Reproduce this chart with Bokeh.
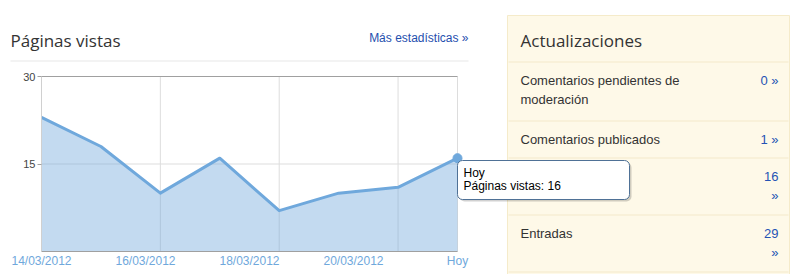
import numpy as np
from bokeh.plotting import figure
from bokeh.models import Range1d, FixedTicker, Label, BoxAnnotation
from bokeh.embed import file_html
from bokeh.resources import INLINE

# ---------------- data ----------------
dates = ["14/03/2012", "15/03/2012", "16/03/2012", "17/03/2012",
         "18/03/2012", "19/03/2012", "20/03/2012", "Hoy"]
views = [23, 18, 10, 16, 7, 10, 11, 16]
x_tick_labels = ["14/03/2012", "16/03/2012", "18/03/2012", "20/03/2012", "Hoy"]
y_ticks = [15, 30]
x_grid_idx = [2, 4, 6, 7]

chart_title = "Páginas vistas"
link_text = "Más estadísticas »"
panel_title = "Actualizaciones"
update_labels = [["Comentarios pendientes de", "moderación"],
                 ["Comentarios publicados"],
                 [],
                 ["Entradas"]]
update_counts = [["0 »"], ["1 »"], ["16", "»"], ["29", "»"]]

# ---------------- layout constants (canvas pixels) ----------------
W, H = 799, 274
FL, FR, FT, FB = 41, 457, 76, 251   # chart area edges on the canvas
TY = -5                             # text baseline correction

LINE = "#6fa8dc"
SANS = "Liberation Sans"
TITLE_FONT = "Open Sans"

n = len(views)
ymax = max(y_ticks)
kx = (FR - FL) / (n - 1)     # px per index
ky = (FB - FT) / ymax        # px per unit

x = list(range(n))

p = figure(width=W, height=H, output_backend="svg", toolbar_location=None, title=None,
           x_range=Range1d(-FL / kx, (n - 1) + (W - FR) / kx),
           y_range=Range1d(-(H - FB) / ky, ymax + FT / ky),
           min_border=0, min_border_left=0, min_border_right=0,
           min_border_top=0, min_border_bottom=0,
           background_fill_color="white", border_fill_color="white")
p.outline_line_color = None
p.extra_x_ranges = {"px": Range1d(0, W)}
p.extra_y_ranges = {"px": Range1d(H, 0)}
p.grid.visible = False

# grid lines limited to the chart area
p.segment(x0=x_grid_idx, x1=x_grid_idx, y0=[0] * len(x_grid_idx), y1=[ymax] * len(x_grid_idx),
          line_color="#dddddd", line_width=1)
p.segment(x0=[0], x1=[n - 1], y0=[y_ticks[0]], y1=[y_ticks[0]], line_color="#dddddd", line_width=1)
p.segment(x0=[0], x1=[n - 1], y0=[y_ticks[-1]], y1=[y_ticks[-1]], line_color="#a0a0a0", line_width=1)

# axes
p.yaxis.fixed_location = 0
p.yaxis.bounds = (0, ymax)
p.yaxis.ticker = FixedTicker(ticks=y_ticks)
p.yaxis.axis_line_color = "#d0d0d0"
p.yaxis.major_tick_line_color = "#a0a0a0"
p.yaxis.major_tick_out = 4
p.yaxis.major_tick_in = 0
p.yaxis.minor_tick_line_color = None
p.yaxis.major_label_standoff = 2
p.yaxis.major_label_text_font = SANS
p.yaxis.major_label_text_font_size = "11px"
p.yaxis.major_label_text_color = "#444444"

xt = [float(v) for v in np.linspace(0, n - 1, len(x_tick_labels))]
p.xaxis.fixed_location = 0
p.xaxis.bounds = (0, n - 1)
p.xaxis.ticker = FixedTicker(ticks=xt)
p.xaxis.major_label_overrides = {t: l for t, l in zip(xt, x_tick_labels)}
p.xaxis.axis_line_color = "#a0a0a0"
p.xaxis.major_tick_line_color = None
p.xaxis.minor_tick_line_color = None
p.xaxis.major_tick_out = 0
p.xaxis.major_tick_in = 0
p.xaxis.major_label_standoff = 2
p.xaxis.major_label_text_font = SANS
p.xaxis.major_label_text_font_size = "12px"
p.xaxis.major_label_text_color = LINE

# series
p.varea(x=x, y1=[0] * n, y2=views, fill_color=LINE, fill_alpha=0.42)
p.line(x=x, y=views, line_color=LINE, line_width=3, line_join="round")
p.scatter(x=[x[-1]], y=[views[-1]], size=9, fill_color=LINE, line_color=LINE)


def box(l, r, t, b, **kw):
    p.add_layout(BoxAnnotation(left=l, right=r, top=t, bottom=b,
                               x_range_name="px", y_range_name="px", **kw))


def label(xp, yp, text, **kw):
    p.add_layout(Label(x=xp, y=yp + TY, text=text, x_range_name="px", y_range_name="px",
                       text_baseline="alphabetic", **kw))


# ---------------- header ----------------
label(10, 45, chart_title, text_font=TITLE_FONT, text_font_size="17px", text_color="#333333")
label(468, 42, link_text, text_font=SANS, text_font_size="12px", text_color="#1f4fae",
      text_align="right")
box(10, 468, 60, 61, fill_color="#e8e8e8", fill_alpha=1, line_alpha=0)

# ---------------- right panel ----------------
box(507, 789, 15, 290, fill_color="#fef9e8", fill_alpha=1,
    line_color="#f5ebca", line_alpha=1, line_width=1)
label(520, 45, panel_title, text_font=TITLE_FONT, text_font_size="17px", text_color="#333333")

seps = [61, 120, 157, 214, 271]
for s in seps:
    box(508, 788, s, s + 1, fill_color="#f3e9c9", fill_alpha=1, line_alpha=0)

for i, (labs, cnts) in enumerate(zip(update_labels, update_counts)):
    base = seps[i] + 24
    for j, t in enumerate(labs):
        label(520, base + j * 18.5, t, text_font=SANS, text_font_size="13px",
              text_color="#333333")
    for j, t in enumerate(cnts):
        label(778, base + j * 18.5, t, text_font=SANS, text_font_size="13px",
              text_color="#2453b4", text_align="right")

# ---------------- tooltip ----------------
box(459, 631, 162, 201, fill_color="#000000", fill_alpha=0.18, line_alpha=0, border_radius=5)
box(457, 629, 160, 199, fill_color="white", fill_alpha=1,
    line_color="#4f7196", line_alpha=1, line_width=1, border_radius=5)
label(463, 177, dates[-1], text_font=SANS, text_font_size="12px", text_color="#000000")
label(463, 190, f"{chart_title}: {views[-1]}", text_font=SANS, text_font_size="12px",
      text_color="#000000")

open("out.html", "w").write(file_html(p, INLINE))
